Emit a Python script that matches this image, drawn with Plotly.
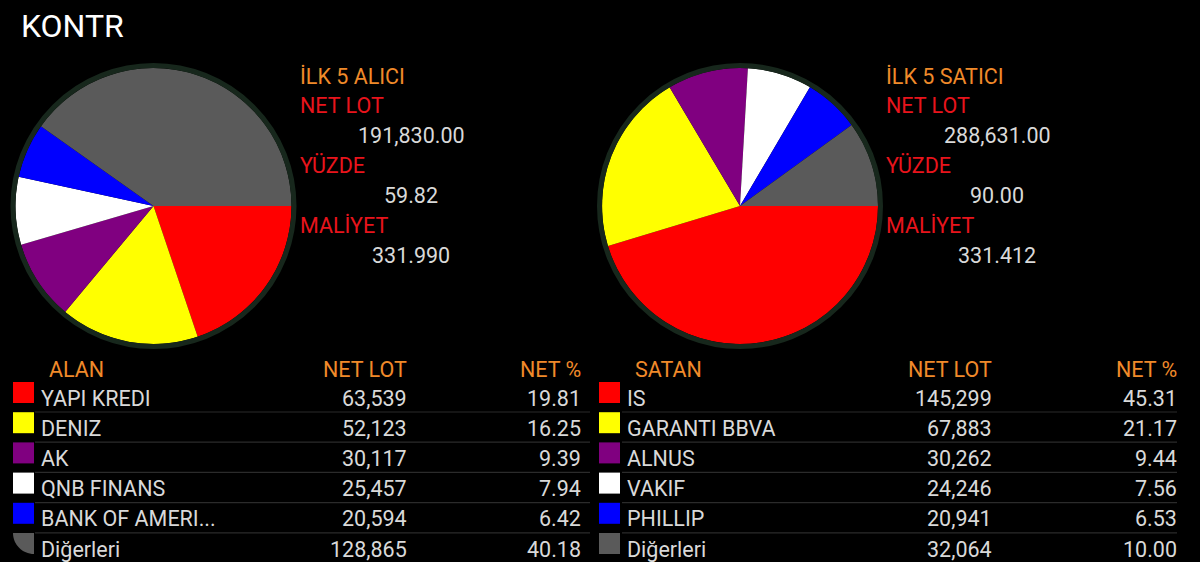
import plotly.graph_objects as go

# ---------------- data ----------------
title = "KONTR"
colors = ["#ff0000", "#ffff00", "#800080", "#ffffff", "#0000ff", "#5a5a5a"]

buy_names = ["YAPI KREDI", "DENIZ", "AK", "QNB FINANS", "BANK OF AMERI...", "Diğerleri"]
buy_lots = [63539, 52123, 30117, 25457, 20594, 128865]
buy_pct = [19.81, 16.25, 9.39, 7.94, 6.42, 40.18]
buy_summary = ["191,830.00", "59.82", "331.990"]

sell_names = ["IS", "GARANTI BBVA", "ALNUS", "VAKIF", "PHILLIP", "Diğerleri"]
sell_lots = [145299, 67883, 30262, 24246, 20941, 32064]
sell_pct = [45.31, 21.17, 9.44, 7.56, 6.53, 10.00]
sell_summary = ["288,631.00", "90.00", "331.412"]

W, H = 1200, 562
FONT = "Roboto"
FS = 21.5
ORANGE = "#f08a2a"
RED = "#e8141c"
VAL = "#d9d9d9"
RING = "#17271c"
SEP = "#2b2b2b"

fig = go.Figure()
# invisible trace to create a pixel-coordinate cartesian frame
fig.add_trace(go.Scatter(x=[], y=[], showlegend=False, hoverinfo="skip"))

R = 138
pies = [(153.5, 206, buy_names, buy_lots), (740, 206, sell_names, sell_lots)]
for cx, cy, names, vals in pies:
    fig.add_trace(go.Pie(
        labels=names, values=vals, sort=False, direction="clockwise", rotation=90,
        marker=dict(colors=colors, line=dict(width=0)),
        textinfo="none", hoverinfo="label+value", showlegend=False,
        domain=dict(x=[(cx - R) / W, (cx + R) / W], y=[1 - (cy + R) / H, 1 - (cy - R) / H]),
    ))

shapes = []
annotations = []

def txt(x, y, s, color, size=FS, anchor="left"):
    # compensate annotation inner padding (~3px)
    dx = {"left": -3, "right": 3, "center": 0}[anchor]
    annotations.append(dict(x=x + dx, y=y, xref="x", yref="y", text=s, showarrow=False,
                            xanchor=anchor, yanchor="middle",
                            font=dict(family=FONT, size=size, color=color)))

# title
txt(22, 26, title, "#ffffff", size=32)

# rings around pies
for cx, cy, _, _ in pies:
    r = 140.5
    shapes.append(dict(type="circle", xref="x", yref="y", x0=cx - r, x1=cx + r,
                       y0=cy - r, y1=cy + r, line=dict(color=RING, width=5)))

# pie side info
side = [(301, 411, "İLK 5 ALICI", buy_summary), (887, 997, "İLK 5 SATICI", sell_summary)]
for lx, vx, head, summ in side:
    txt(lx, 76, head, ORANGE)
    labels = ["NET LOT", "YÜZDE", "MALİYET"]
    for i, (lab, v) in enumerate(zip(labels, summ)):
        txt(lx, 105 + 60 * i, lab, RED)
        txt(vx, 135 + 60 * i, v, VAL, anchor="center")

# tables
row_y0, step = 398, 30.2
tables = [
    dict(sq=13, name_x=42, head="ALAN", lot_x=406, pct_x=580, line=(35, 590),
         names=buy_names, lots=buy_lots, pct=buy_pct, last_pie=True),
    dict(sq=599, name_x=628, head="SATAN", lot_x=991, pct_x=1176, line=(622, 1177),
         names=sell_names, lots=sell_lots, pct=sell_pct, last_pie=False),
]
for t in tables:
    txt(t["name_x"] + 8, 369, t["head"], ORANGE)
    txt(t["lot_x"], 369, "NET LOT", ORANGE, anchor="right")
    txt(t["pct_x"], 369, "NET %", ORANGE, anchor="right")
    n = len(t["names"])
    for i in range(n):
        y = row_y0 + step * i
        txt(t["name_x"], y, t["names"][i], VAL)
        txt(t["lot_x"], y, f"{t['lots'][i]:,}", VAL, anchor="right")
        txt(t["pct_x"], y, f"{t['pct'][i]:.2f}", VAL, anchor="right")
        x0 = t["sq"]
        y0 = y - 16
        if i == n - 1 and t["last_pie"]:
            x1, y1 = x0 + 21, y0 + 21
            k = 0.5523 * 21
            path = (f"M {x1},{y0} L {x0},{y0} C {x0},{y0 + k} {x1 - k},{y1} {x1},{y1} Z")
            shapes.append(dict(type="path", xref="x", yref="y", path=path,
                               fillcolor=colors[i], line=dict(width=0)))
        else:
            shapes.append(dict(type="rect", xref="x", yref="y", x0=x0, x1=x0 + 21,
                               y0=y0, y1=y0 + 21, fillcolor=colors[i], line=dict(width=0)))
        if i < n - 1:
            ly = y + 14
            shapes.append(dict(type="line", xref="x", yref="y", x0=t["line"][0], x1=t["line"][1],
                               y0=ly, y1=ly, line=dict(color=SEP, width=1.2)))

fig.update_layout(
    width=W, height=H, margin=dict(l=0, r=0, t=0, b=0),
    paper_bgcolor="#000000", plot_bgcolor="#000000",
    xaxis=dict(range=[0, W], visible=False, fixedrange=True, domain=[0, 1]),
    yaxis=dict(range=[H, 0], visible=False, fixedrange=True, domain=[0, 1]),
    shapes=shapes, annotations=annotations, showlegend=False,
)

fig.write_html(
    "out.html",
    config={"displayModeBar": False},
    post_script="document.body.style.margin='0';document.body.style.background='#000';"
                "document.body.style.overflow='hidden';",
)
